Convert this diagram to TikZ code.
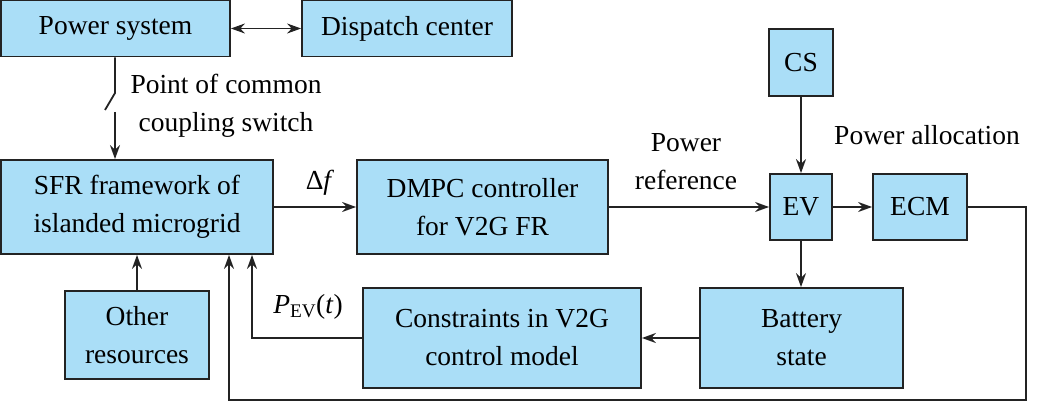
\documentclass[tikz,border=0pt]{standalone}
\usepackage{fontspec}
\newfontfamily\tnr{Liberation Serif}
\usetikzlibrary{arrows.meta}
\definecolor{boxfill}{RGB}{170,222,247}
\definecolor{edge}{RGB}{35,35,35}
\tikzset{
  blk/.style={draw=edge,line width=1.8pt,fill=boxfill,inner sep=0pt,align=center,font=\tnr\fontsize{27.5}{38}\selectfont},
  lbl/.style={inner sep=0pt,align=center,font=\tnr\fontsize{27.5}{38}\selectfont},
  tip/.style={-{Stealth[length=14pt,width=10pt]}},
  conn/.style={draw=edge,line width=1.8pt,tip},
  wire/.style={draw=edge,line width=1.8pt}
}
\begin{document}
\begin{tikzpicture}[x=1pt,y=-1pt]
\useasboundingbox (0,0) rectangle (1040,403);
\node[blk,minimum width=229pt,minimum height=56pt] (ps) at (115.5,28.5) {Power system};
\node[blk,minimum width=210pt,minimum height=56pt] (dc) at (407,28.5) {Dispatch center};
\node[blk,minimum width=272pt,minimum height=94pt] (sfr) at (137,207) {SFR framework of\\islanded microgrid};
\node[blk,minimum width=251pt,minimum height=94pt] (dmpc) at (482.5,207) {DMPC controller\\for V2G FR};
\node[blk,minimum width=144pt,minimum height=88pt] (other) at (137,335) {Other\\resources};
\node[blk,minimum width=278pt,minimum height=100pt] (cons) at (502,338) {Constraints in V2G\\control model};
\node[blk,minimum width=203pt,minimum height=100pt] (bat) at (801.5,338) {Battery\\state};
\node[blk,minimum width=62pt,minimum height=66pt] (ev) at (801,207) {EV};
\node[blk,minimum width=94pt,minimum height=66pt] (ecm) at (920,207) {ECM};
\node[blk,minimum width=64pt,minimum height=67pt] (cs) at (801,62.5) {CS};

% labels
\node[lbl] (pcc) at (226,106) {Point of common\\coupling switch};
\node[lbl] (df) at (320,183) {Δ\textit{f}};
\node[lbl] (pref) at (686,162) {Power\\reference};
\node[lbl] (palloc) at (927,135) {Power allocation};
\node[lbl] (pev) at (308,307) {\textit{P}\textsubscript{EV}(\textit{t})};

% connectors
\draw[wire,{Stealth[length=14pt,width=10pt]}-{Stealth[length=14pt,width=10pt]}] (ps.east) -- (dc.west);
\coordinate (sw1) at (115,93);
\coordinate (sw2) at (105,110);
\coordinate (sw3) at (115,112);
\draw[wire] (ps.south -| sw1) -- (sw1) -- (sw2);
\draw[conn] (sw3) -- (sw3 |- sfr.north);
\draw[conn] (sfr.east) -- (dmpc.west);
\draw[conn] (dmpc.east) -- (ev.west);
\draw[conn] (ev.east) -- (ecm.west);
\draw[conn] (cs.south) -- (ev.north);
\draw[conn] (ev.south) -- (bat.north -| ev.south);
\draw[conn] (bat.west) -- (cons.west -| cons.east);
\draw[conn] (other.north) -- (other.north |- sfr.south);
\coordinate (pevx) at (252,338);
\draw[conn] (cons.west) -- (pevx) -- (pevx |- sfr.south);
\coordinate (lr) at (1026,400);
\coordinate (ll) at (229,400);
\draw[conn] (ecm.east) -- (ecm.east -| lr) -- (lr) -- (ll) -- (ll |- sfr.south);
\end{tikzpicture}
\end{document}
